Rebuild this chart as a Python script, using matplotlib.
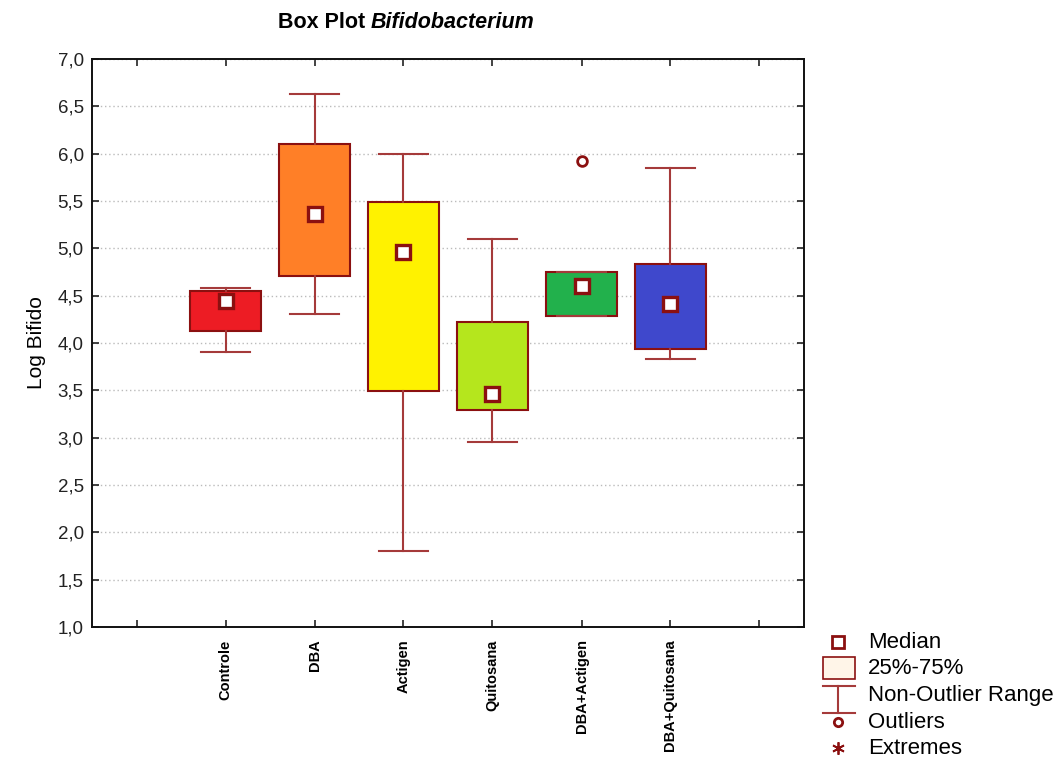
import matplotlib.pyplot as plt
from matplotlib.patches import Rectangle
from matplotlib.ticker import FuncFormatter

plt.rcParams['font.family'] = ['Liberation Sans', 'DejaVu Sans']

# Data
groups = ["Controle", "DBA", "Actigen", "Quitosana", "DBA+Actigen", "DBA+Quitosana"]
medians = [4.44, 5.36, 4.96, 3.46, 4.60, 4.41]
q1 = [4.13, 4.71, 3.49, 3.29, 4.28, 3.94]
q3 = [4.55, 6.10, 5.49, 4.22, 4.75, 4.83]
whis_lo = [3.90, 4.31, 1.80, 2.95, 4.28, 3.83]
whis_hi = [4.58, 6.63, 6.00, 5.10, 4.75, 5.85]
outliers = [[], [], [], [], [5.92], []]
box_colors = ["#ED1C24", "#FF7F27", "#FFF200", "#B5E61D", "#22B14C", "#3F48CC"]

edge = "#8B1010"
whisk = "#A53A3A"

fig = plt.figure(figsize=(10.58, 7.60), dpi=100)
ax = fig.add_axes([92 / 1058, 133 / 760, 712 / 1058, 568 / 760])

stats = []
for i, g in enumerate(groups):
    stats.append(dict(label=g, med=medians[i], q1=q1[i], q3=q3[i],
                      whislo=whis_lo[i], whishi=whis_hi[i], fliers=outliers[i]))

pos = list(range(1, len(groups) + 1))
bp = ax.bxp(stats, positions=pos, widths=0.8, capwidths=0.56, patch_artist=True,
            showfliers=True, manage_ticks=False,
            boxprops=dict(edgecolor=edge, linewidth=1.5),
            whiskerprops=dict(color=whisk, linewidth=1.5),
            capprops=dict(color=whisk, linewidth=1.5),
            medianprops=dict(linewidth=0),
            flierprops=dict(marker='o', markerfacecolor='white', markeredgecolor=edge,
                            markersize=7, markeredgewidth=2))
for patch, c in zip(bp['boxes'], box_colors):
    patch.set_facecolor(c)
    patch.set_zorder(2)

ax.plot(pos, medians, linestyle='none', marker='s', markersize=9.5,
        markerfacecolor='white', markeredgecolor=edge, markeredgewidth=2.4, zorder=4)

ax.set_xlim(-0.5, 7.5)
ax.set_ylim(1.0, 7.0)
ax.set_yticks([1.0 + 0.5 * k for k in range(13)])
ax.yaxis.set_major_formatter(FuncFormatter(lambda v, p: f"{v:.1f}".replace(".", ",")))
ax.set_xticks(range(0, 8))
ax.set_xticklabels([])
ax.tick_params(direction='in', length=5, width=1.2, top=True, right=True,
               labelsize=13.5, colors='#222222')
ax.tick_params(axis='y', pad=6)
ax.grid(axis='y', linestyle=(0, (1, 2)), color='#bbbbbb', linewidth=1)
ax.set_axisbelow(True)
for s in ax.spines.values():
    s.set_linewidth(1.4)
    s.set_color('#111111')

for p, g in zip(pos, groups):
    ax.text(p, -0.022, g, rotation=90, ha='center', va='top', fontsize=10.5,
            fontweight='bold', family=['Liberation Sans Narrow', 'Liberation Sans'],
            transform=ax.get_xaxis_transform())

ax.set_ylabel("Log Bifido", fontsize=15, labelpad=8)

# Title: plain bold part + bold italic genus name
fig.text(371 / 1058, 1 - 22 / 760, "Box Plot ", ha='right', va='center',
         fontsize=15.5, fontweight='bold')
fig.text(371 / 1058, 1 - 22 / 760, "Bifidobacterium", ha='left', va='center',
         fontsize=15.5, fontweight='bold', fontstyle='italic')

# Legend drawn in pixel coordinates
lg = fig.add_axes([0, 0, 1, 1])
lg.set_xlim(0, 1058)
lg.set_ylim(760, 0)
lg.axis('off')
lx = 838
tx = 868
lg.plot([lx], [642], marker='s', markersize=8, markerfacecolor='white',
        markeredgecolor=edge, markeredgewidth=2)
lg.add_patch(Rectangle((823, 657), 32, 22, facecolor='#FFF5E8', edgecolor=edge, linewidth=1.2))
lg.plot([823, 855], [686, 686], color=whisk, linewidth=1.5)
lg.plot([lx, lx], [686, 713], color=whisk, linewidth=1.5)
lg.plot([823, 855], [713, 713], color=whisk, linewidth=1.5)
lg.plot([lx], [722], marker='o', markersize=6, markerfacecolor='white',
        markeredgecolor=edge, markeredgewidth=2)
lg.plot([lx], [748], marker=(6, 2, 0), markersize=9, color=edge, markeredgewidth=1.3)
for y, t in zip([642, 668, 696, 722, 749],
                ["Median", "25%-75%", "Non-Outlier Range", "Outliers", "Extremes"]):
    lg.text(tx, y, t, fontsize=16, va='center', ha='left')

fig.savefig("out.png", dpi=100)
